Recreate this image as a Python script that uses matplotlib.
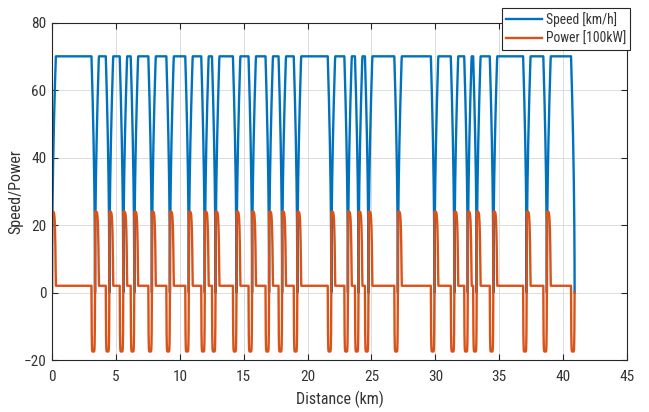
import numpy as np
import matplotlib
matplotlib.use('Agg')
from matplotlib import pyplot as plt
from matplotlib import font_manager

# prefer a narrow Arial-like face if one is installed
installed = {f.name for f in font_manager.fontManager.ttflist}
narrow = [n for n in ['Liberation Sans Narrow', 'Arial Narrow', 'Roboto Condensed']
          if n in installed]
HAVE_NARROW = len(narrow) > 0
plt.rcParams['font.family'] = narrow + ['Liberation Sans', 'DejaVu Sans']

# station stops along the line (km) - speed goes to zero here
stops = [0.0, 3.37, 4.49, 5.58, 6.44, 7.82, 9.23, 10.71, 11.96, 12.80, 14.44,
         15.66, 16.99, 18.01, 19.20, 21.86, 23.16, 23.99, 24.77, 27.07, 29.93,
         31.49, 32.54, 33.24, 34.54, 37.15, 38.73, 40.90]

V_MAX = 70.0      # cruise speed [km/h]
P_ACC = 24.0      # traction power peak [100kW]
P_CRUISE = 2.0    # power while cruising
P_BRAKE = -17.5   # regenerative braking power
L_ACC = 0.30      # km needed to reach cruise speed
L_BRK = 0.28      # km needed to stop

x = np.arange(0, stops[-1] + 1e-9, 0.002)
speed = np.zeros_like(x)
power = np.zeros_like(x)
for i, d in enumerate(x):
    k = np.searchsorted(stops, d, side='right') - 1
    k = min(k, len(stops) - 2)
    d_acc = d - stops[k]
    d_brk = stops[k + 1] - d
    speed[i] = V_MAX * min(1.0, np.sqrt(max(d_acc, 0) / L_ACC), np.sqrt(max(d_brk, 0) / L_BRK))
    if d_brk < L_BRK:
        w = 1 - d_brk / L_BRK
        power[i] = P_BRAKE + (P_CRUISE - P_BRAKE) * (2 * w - 1) ** 8
    elif d_acc < L_ACC:
        u = d_acc / L_ACC
        power[i] = P_CRUISE + (P_ACC - P_CRUISE) * (1 - u ** 6)
    else:
        power[i] = P_CRUISE

x = np.concatenate([[0.0], x])
speed = np.concatenate([[0.0], speed])
power = np.concatenate([[0.0], power])
speed[-1] = 0.0
power[-1] = 0.0

TXT = '#333333'
if HAVE_NARROW:
    tick_fs, lab_fs, leg_fs = 11, 11.5, 9.8
else:
    tick_fs, lab_fs, leg_fs = 10, 11, 8.5

fig = plt.figure(figsize=(6.49, 4.12), dpi=100)
ax = fig.add_axes([0.0801, 0.1262, 0.886, 0.819])

ax.plot(x, speed, color='#0072BD', lw=1.7, label='Speed [km/h]')
ax.plot(x, power, color='#D95319', lw=1.7, label='Power [100kW]')

ax.set_xlim(0, 45)
ax.set_ylim(-20, 80)
ax.set_xticks(range(0, 46, 5))
ax.set_yticks(range(-20, 81, 20))
ax.grid(True, color='#dcdcdc', lw=0.7)
ax.set_axisbelow(True)
ax.tick_params(direction='in', top=True, right=True, length=4, width=0.8,
               colors='#262626', labelsize=tick_fs, labelcolor=TXT)
ax.tick_params(axis='x', pad=7)
ax.tick_params(axis='y', pad=4)
for sp in ax.spines.values():
    sp.set_color('#262626')
    sp.set_linewidth(0.8)

ax.set_xlabel('Distance (km)', fontsize=lab_fs, color=TXT, labelpad=5)
ax.set_ylabel('Speed/Power', fontsize=lab_fs, color=TXT, labelpad=0.5)

leg = ax.legend(loc='upper right', bbox_to_anchor=(630 / 649, 1 - 8 / 412),
                bbox_transform=fig.transFigure, borderaxespad=0, fontsize=leg_fs,
                fancybox=False, framealpha=1, edgecolor='#262626',
                handlelength=2.6, handletextpad=0.3, labelspacing=0.35,
                borderpad=0.3)
leg.get_frame().set_linewidth(0.8)
for t in leg.get_texts():
    t.set_color(TXT)

fig.savefig('out.png', dpi=100)
